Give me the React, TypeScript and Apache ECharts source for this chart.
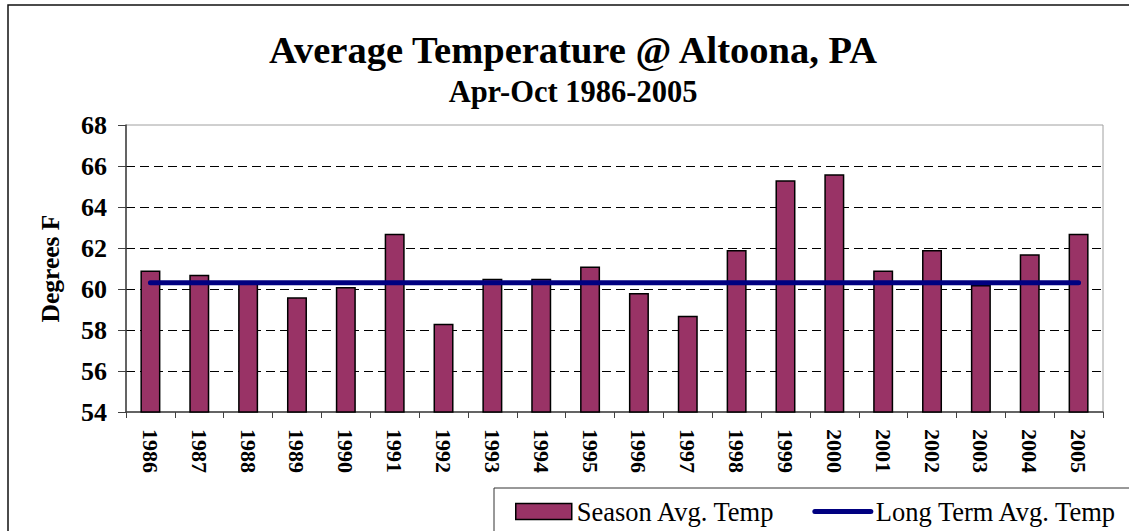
import React, { useEffect, useRef } from "react";
import * as echarts from "echarts";

const years = ["1986","1987","1988","1989","1990","1991","1992","1993","1994","1995","1996","1997","1998","1999","2000","2001","2002","2003","2004","2005"];
const seasonAvg = [60.9, 60.7, 60.3, 59.6, 60.1, 62.7, 58.3, 60.5, 60.5, 61.1, 59.8, 58.7, 61.9, 65.3, 65.6, 60.9, 61.9, 60.2, 61.7, 62.7];
const longTermAvg = [60.3, 60.3, 60.3, 60.3, 60.3, 60.3, 60.3, 60.3, 60.3, 60.3, 60.3, 60.3, 60.3, 60.3, 60.3, 60.3, 60.3, 60.3, 60.3, 60.3];
const yTicks = { min: 54, max: 68, interval: 2 };

const FONT = "'Liberation Serif', 'Times New Roman', serif";

export default function App() {
  const ref = useRef<HTMLDivElement>(null);
  useEffect(() => {
    document.body.style.margin = "0";
    const chart = echarts.init(ref.current!, undefined, { renderer: "svg" });
    chart.setOption({
      animation: false,
      backgroundColor: "#ffffff",
      title: [
        {
          text: "Average Temperature @ Altoona, PA",
          left: 573,
          top: 30,
          textAlign: "center",
          padding: 0,
          textStyle: { fontFamily: FONT, fontWeight: "bold", fontSize: 38.5, color: "#000" },
        },
        {
          text: "Apr-Oct 1986-2005",
          left: 573,
          top: 76,
          textAlign: "center",
          padding: 0,
          textStyle: { fontFamily: FONT, fontWeight: "bold", fontSize: 30.5, color: "#000" },
        },
      ],
      graphic: [
        {
          type: "rect",
          shape: { x: 8, y: 5, width: 1300, height: 700 },
          style: { fill: "none", stroke: "#111", lineWidth: 1.5 },
          silent: true,
          z: -1,
        },
        {
          type: "rect",
          shape: { x: 494, y: 488, width: 700, height: 100 },
          style: { fill: "none", stroke: "#333", lineWidth: 1 },
          silent: true,
          z: -1,
        },
      ],
      legend: {
        left: 515,
        top: 498,
        padding: 0,
        itemGap: 37,
        itemWidth: 56,
        itemHeight: 16,
        textStyle: { fontFamily: FONT, fontSize: 26.5, color: "#000" },
        data: [
          {
            name: "Season Avg. Temp",
            icon: "rect",
            itemStyle: { color: "#993366", borderColor: "#000", borderWidth: 1.5 },
          },
          {
            name: "Long Term Avg. Temp",
            itemStyle: { color: "transparent", borderWidth: 0, opacity: 0 },
            lineStyle: { color: "#000080", width: 5, cap: "round" },
          },
        ],
      },
      grid: {
        left: 126,
        right: 26,
        top: 125,
        bottom: 119,
        show: true,
        borderColor: "#a0a0a0",
        borderWidth: 1,
        containLabel: false,
      },
      xAxis: {
        type: "category",
        data: years,
        boundaryGap: true,
        axisLine: { lineStyle: { color: "#404040", width: 1.5 } },
        axisTick: { show: true, alignWithLabel: false, length: 6, lineStyle: { color: "#404040", width: 1 } },
        axisLabel: {
          rotate: -90,
          margin: 17,
          interval: 0,
          fontFamily: FONT,
          fontWeight: "bold",
          fontSize: 22,
          color: "#000",
        },
      },
      yAxis: {
        type: "value",
        min: yTicks.min,
        max: yTicks.max,
        interval: yTicks.interval,
        name: "Degrees F",
        nameLocation: "middle",
        nameRotate: 90,
        nameGap: 63,
        nameTextStyle: { fontFamily: FONT, fontWeight: "bold", fontSize: 25.5, color: "#000" },
        axisLine: { show: true, lineStyle: { color: "#404040", width: 1.5 } },
        axisTick: { show: true, length: 8, lineStyle: { color: "#404040", width: 1 } },
        axisLabel: {
          margin: 19,
          fontFamily: FONT,
          fontWeight: "bold",
          fontSize: 26,
          color: "#000",
        },
        splitLine: {
          show: true,
          showMinLine: false,
          showMaxLine: false,
          lineStyle: { color: "#000", width: 1, type: [9, 5] },
        },
      },
      series: [
        {
          name: "Season Avg. Temp",
          type: "bar",
          data: seasonAvg,
          barWidth: 20,
          itemStyle: { color: "#993366", borderColor: "#000", borderWidth: 1.5 },
          z: 2,
        },
        {
          name: "Long Term Avg. Temp",
          type: "line",
          data: longTermAvg,
          symbol: "none",
          lineStyle: { color: "#000080", width: 5, cap: "round" },
          itemStyle: { color: "#000080" },
          z: 3,
        },
      ],
    });
    return () => chart.dispose();
  }, []);
  return <div ref={ref} style={{ width: 1129, height: 531 }} />;
}
